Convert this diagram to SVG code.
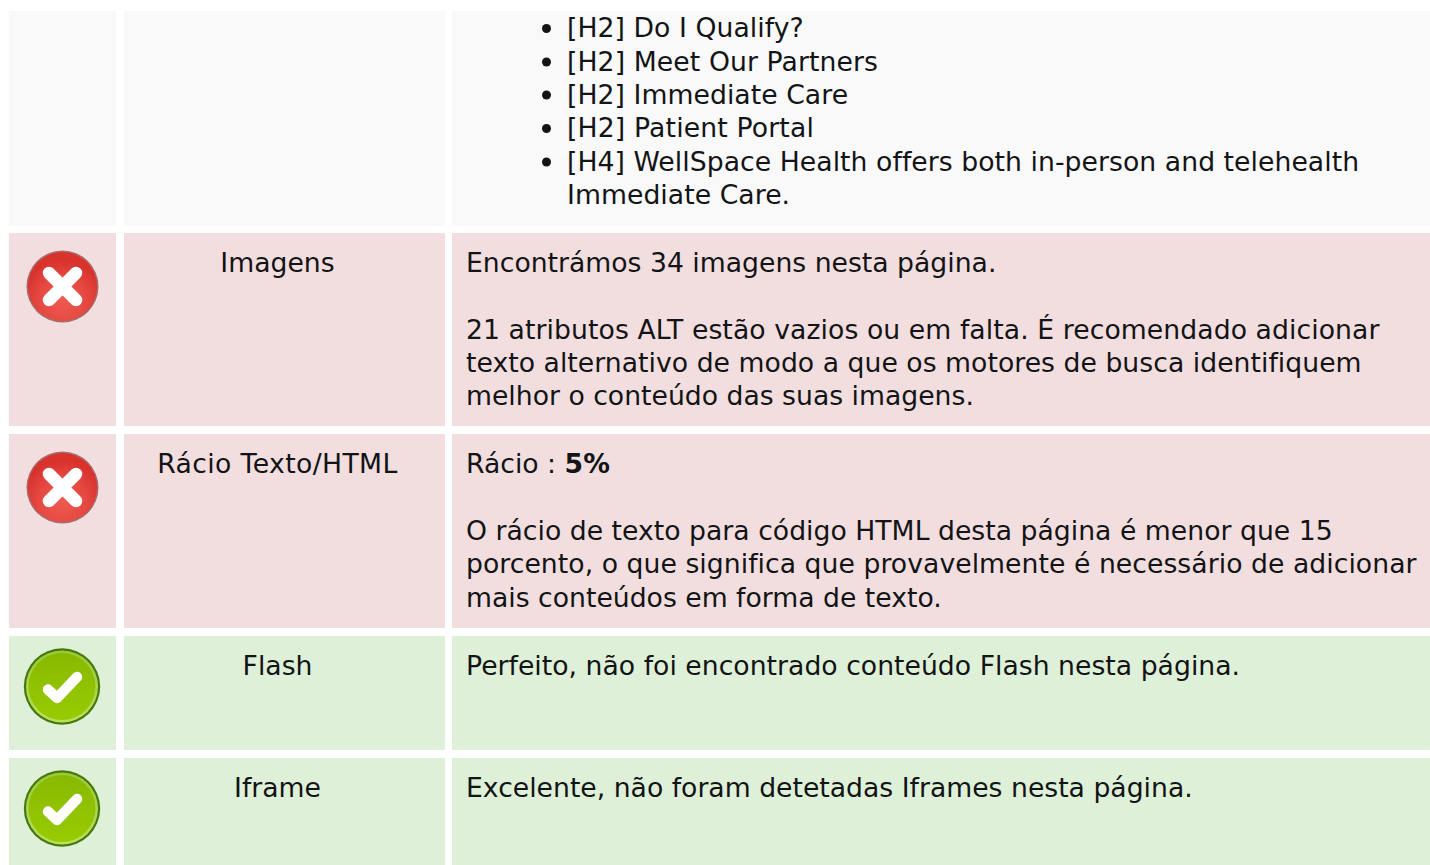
<svg xmlns="http://www.w3.org/2000/svg" width="1430" height="865" viewBox="0 0 1430 865">
<style>
text{font-family:"DejaVu Sans",sans-serif;font-size:26.67px;fill:#121416}
.c{text-anchor:middle}
.g{fill:#f9f9f9}.r{fill:#f2dede}.v{fill:#dff0d8}
</style>
<defs>
<filter id="soft" x="-10%" y="-10%" width="120%" height="120%"><feGaussianBlur stdDeviation="0.6"/></filter>
<radialGradient id="rg" cx="50%" cy="70%" r="60%"><stop offset="0" stop-color="#ee5a50"/><stop offset="0.55" stop-color="#e64a42"/><stop offset="1" stop-color="#d8302c"/></radialGradient>
<linearGradient id="gg" x1="0" y1="0" x2="0" y2="1"><stop offset="0" stop-color="#88b900"/><stop offset="1" stop-color="#98cb00"/></linearGradient>
<linearGradient id="gr" x1="0" y1="0" x2="0" y2="1"><stop offset="0" stop-color="#9ac83a"/><stop offset="1" stop-color="#b8e060"/></linearGradient>
<g id="err" filter="url(#soft)"><circle r="36" fill="#a86a6a"/><circle r="34.500" fill="url(#rg)"/><path d="M-13.500-13.500 13.500 13.500M13.500-13.500-13.500 13.500" stroke="#fff" stroke-width="12.500" stroke-linecap="round"/></g>
<g id="ok" filter="url(#soft)"><circle r="38.200" fill="#47780a"/><circle r="36" fill="url(#gr)"/><circle r="33.500" fill="url(#gg)"/><path d="M-14 3-5 11.500 15-9.500" fill="none" stroke="#fff" stroke-width="10.500" stroke-linecap="round" stroke-linejoin="round"/></g>
</defs>
<rect width="1430" height="865" fill="#fff"/>
<g id="row-headings">
<rect class="g" x="9" y="11" width="107" height="215"/><rect class="g" x="124" y="11" width="321" height="215"/><rect class="g" x="452" y="11" width="978" height="215"/>
<g fill="#121416"><circle cx="546.500" cy="28.500" r="4.500"/><circle cx="546.500" cy="62" r="4.500"/><circle cx="546.500" cy="95" r="4.500"/><circle cx="546.500" cy="128.500" r="4.500"/><circle cx="546.500" cy="162" r="4.500"/></g>
<text x="567" y="37" letter-spacing=".05">[H2] Do I Qualify?</text>
<text x="567" y="71" letter-spacing=".09">[H2] Meet Our Partners</text>
<text x="567" y="104" letter-spacing=".05">[H2] Immediate Care</text>
<text x="567" y="137" letter-spacing=".15">[H2] Patient Portal</text>
<text x="567" y="171" letter-spacing=".05">[H4] WellSpace Health offers both in-person and telehealth</text>
<text x="567" y="204" letter-spacing=".05">Immediate Care.</text>
</g>
<g id="row-imagens">
<rect class="r" x="9" y="233" width="107" height="193"/><rect class="r" x="124" y="233" width="321" height="193"/><rect class="r" x="452" y="233" width="978" height="193"/>
<use href="#err" x="62.500" y="286.500"/>
<text class="c" x="277.500" y="272">Imagens</text>
<text x="466" y="272">Encontrámos 34 imagens nesta página.</text>
<text x="466" y="339" letter-spacing=".075">21 atributos ALT estão vazios ou em falta. É recomendado adicionar</text>
<text x="466" y="372" letter-spacing=".03">texto alternativo de modo a que os motores de busca identifiquem</text>
<text x="466" y="405">melhor o conteúdo das suas imagens.</text>
</g>
<g id="row-racio">
<rect class="r" x="9" y="434" width="107" height="194"/><rect class="r" x="124" y="434" width="321" height="194"/><rect class="r" x="452" y="434" width="978" height="194"/>
<use href="#err" x="62.500" y="487.500"/>
<text class="c" x="277.500" y="473" letter-spacing=".37">Rácio Texto/HTML</text>
<text x="466" y="473">Rácio : <tspan font-weight="700">5%</tspan></text>
<text x="466" y="540" letter-spacing=".016">O rácio de texto para código HTML desta página é menor que 15</text>
<text x="466" y="573" letter-spacing=".043">porcento, o que significa que provavelmente é necessário de adicionar</text>
<text x="466" y="607">mais conteúdos em forma de texto.</text>
</g>
<g id="row-flash">
<rect class="v" x="9" y="636" width="107" height="114"/><rect class="v" x="124" y="636" width="321" height="114"/><rect class="v" x="452" y="636" width="978" height="114"/>
<use href="#ok" x="62" y="686.500"/>
<text class="c" x="277.500" y="675">Flash</text>
<text x="466" y="675" letter-spacing=".02">Perfeito, não foi encontrado conteúdo Flash nesta página.</text>
</g>
<g id="row-iframe">
<rect class="v" x="9" y="758" width="107" height="107"/><rect class="v" x="124" y="758" width="321" height="107"/><rect class="v" x="452" y="758" width="978" height="107"/>
<use href="#ok" x="62" y="808.500"/>
<text class="c" x="277.500" y="797">Iframe</text>
<text x="466" y="797">Excelente, não foram detetadas Iframes nesta página.</text>
</g>
<g id="connectors"/>
</svg>
